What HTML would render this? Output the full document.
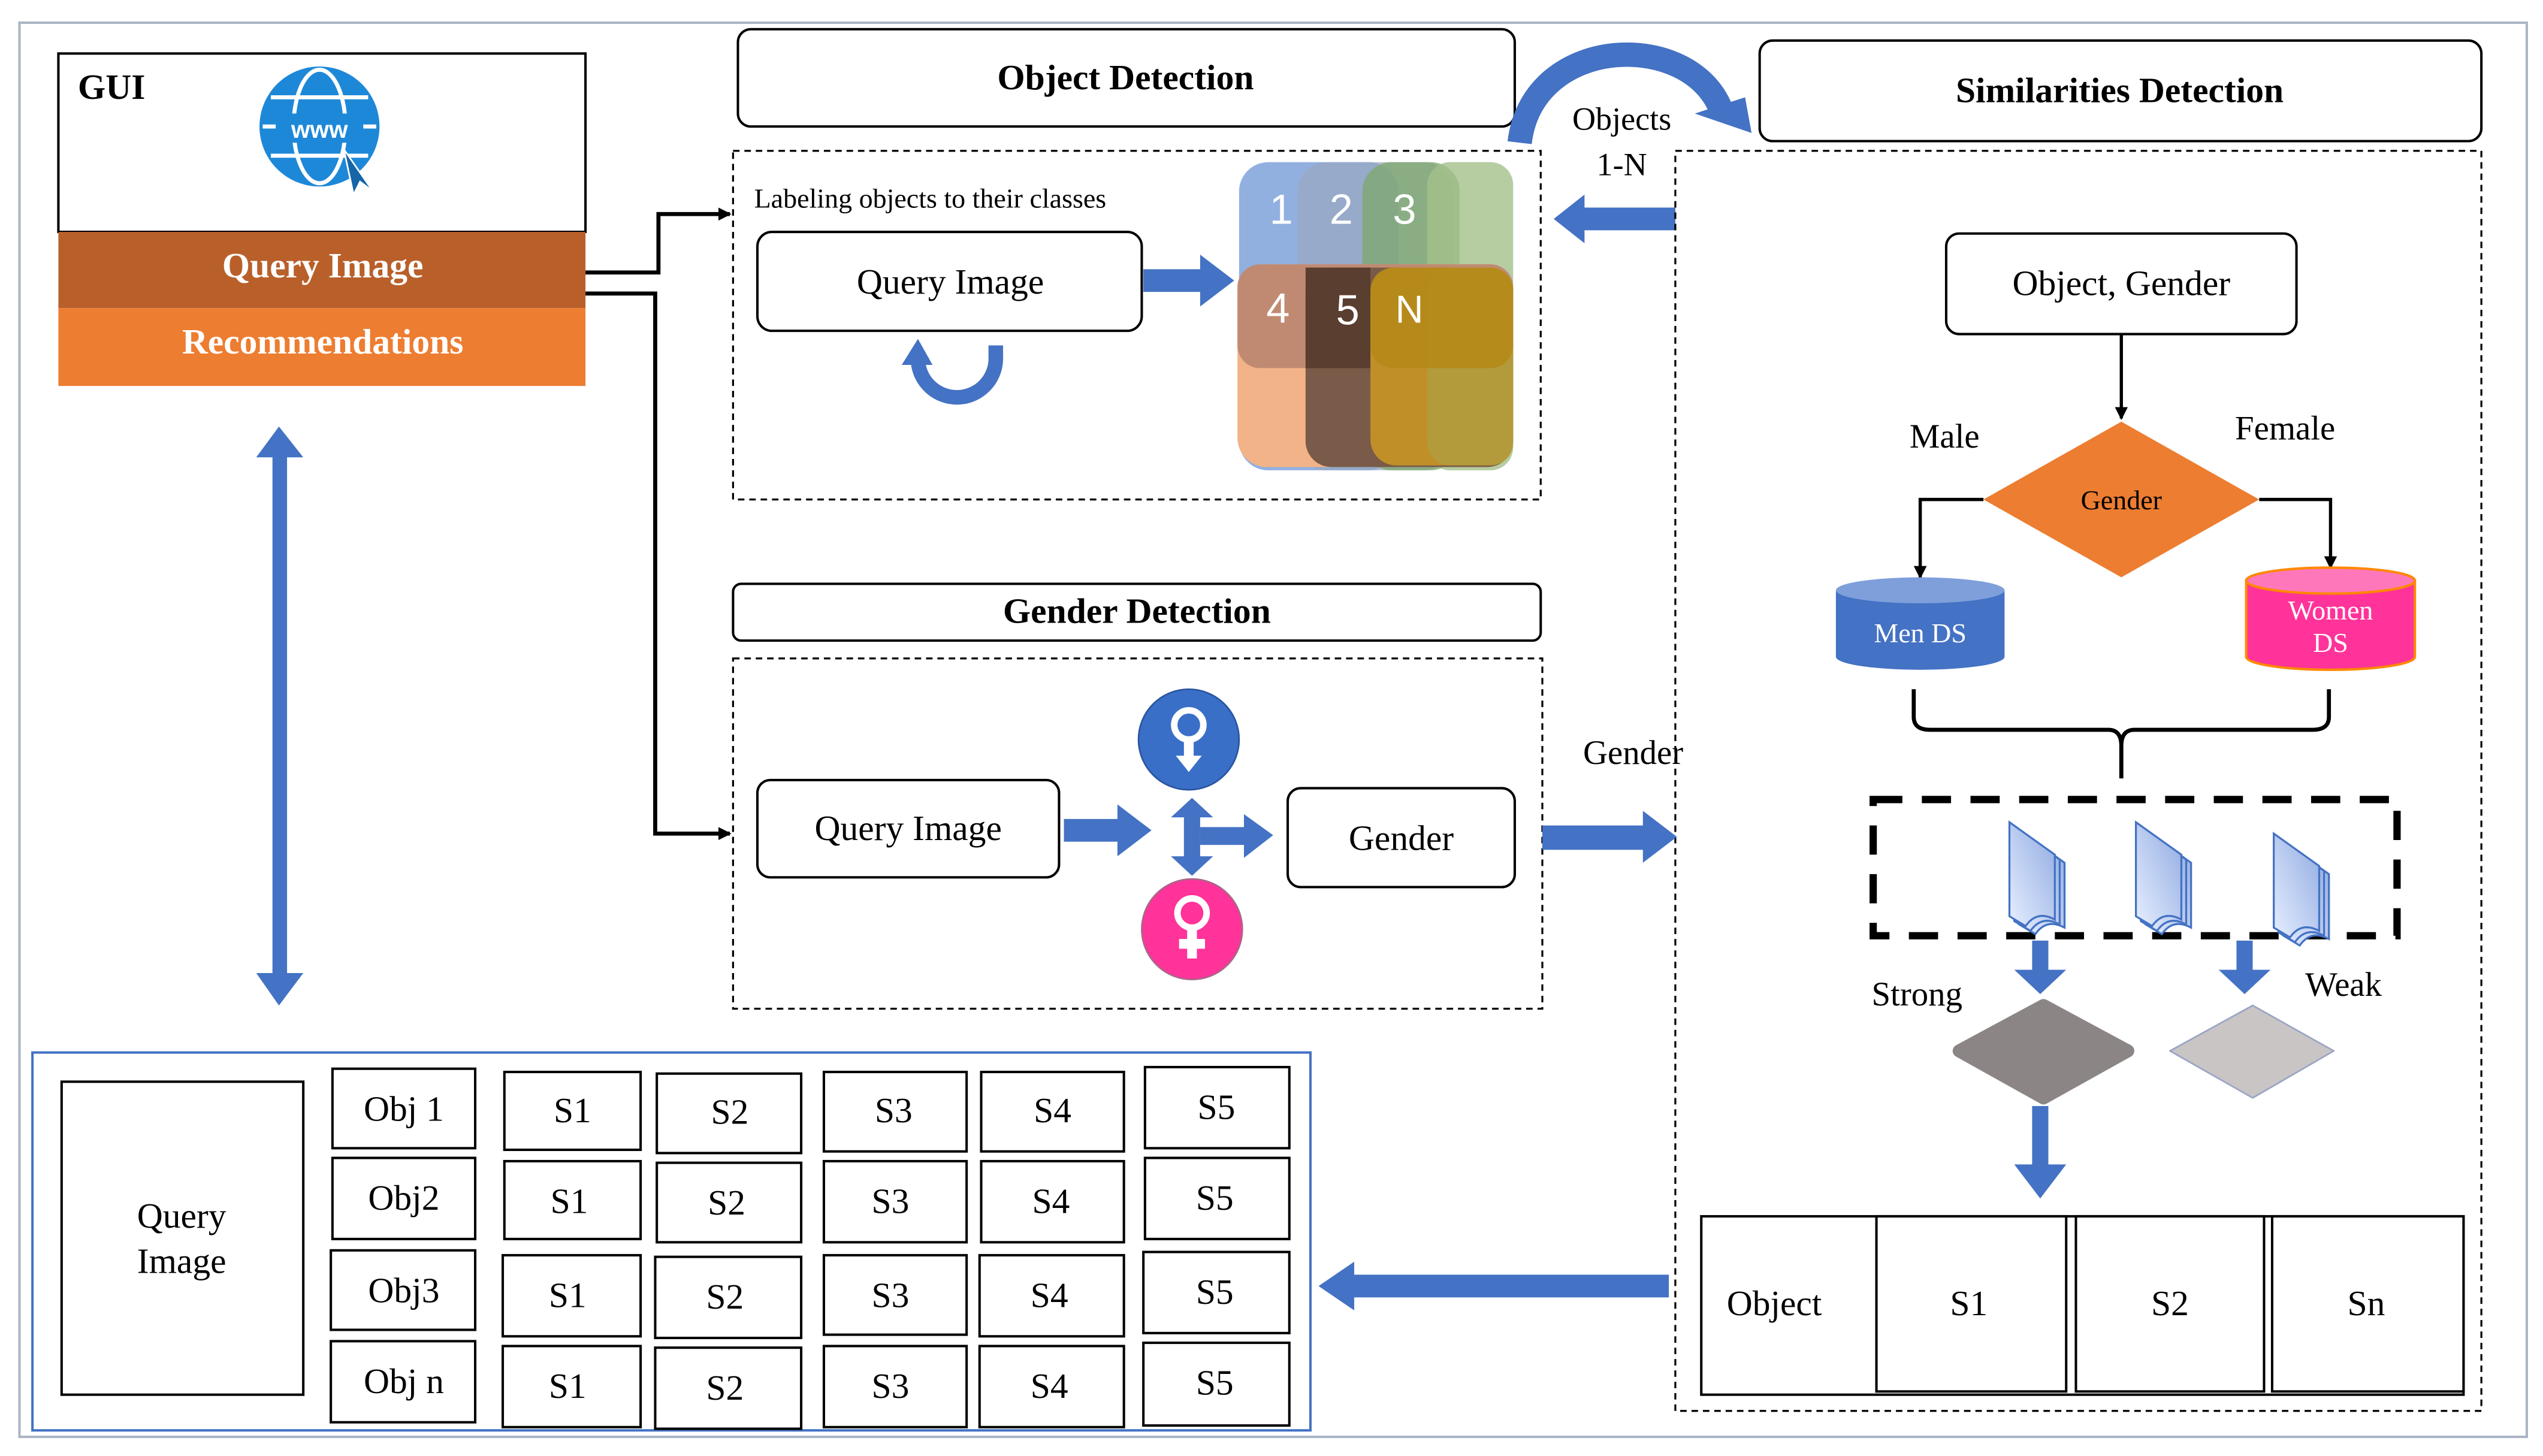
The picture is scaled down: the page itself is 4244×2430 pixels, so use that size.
<!DOCTYPE html>
<html><head><meta charset="utf-8"><style>html,body{margin:0;padding:0;background:#fff}svg{display:block}</style></head>
<body>
<svg width="4244" height="2430" viewBox="0 0 1568 897.8" preserveAspectRatio="none" xmlns="http://www.w3.org/2000/svg" font-family="Liberation Serif, serif">
<defs>
<marker id="ah" markerWidth="8" markerHeight="8" refX="7" refY="4" orient="auto" markerUnits="userSpaceOnUse"><path d="M0,0 L8,4 L0,8 z" fill="#000"/></marker>
<linearGradient id="doc" x1="0" y1="1" x2="1" y2="0"><stop offset="0" stop-color="#e6eeff"/><stop offset="1" stop-color="#8faae0"/></linearGradient>
</defs>
<rect x="12" y="14" width="1546" height="872" fill="none" stroke="#aab4c4" stroke-width="1.5"/>

<!-- GUI -->
<rect x="36" y="33" width="325" height="110" fill="#fff" stroke="#000" stroke-width="1.5"/>
<text x="48" y="61" font-size="22" font-weight="bold">GUI</text>
<circle cx="197" cy="78" r="37" fill="#1e88d8"/>
<g stroke="#fff" stroke-width="2.5" fill="none"><ellipse cx="197" cy="78" rx="16" ry="35"/><line x1="162" y1="78" x2="232" y2="78"/><path d="M167,60 H227 M167,96 H227"/></g>
<rect x="170" y="70" width="54" height="18" fill="#1e88d8"/>
<text x="197" y="85" font-size="15" fill="#fff" text-anchor="middle" font-family="Liberation Sans, sans-serif" font-weight="bold">www</text>
<path d="M212,92 L230,118 L222,112 L218,120 Z" fill="#1565a8" stroke="#fff" stroke-width="1"/>
<rect x="36" y="143" width="325" height="47" fill="#b9602a"/>
<text x="199" y="171" font-size="22" font-weight="bold" fill="#fff" text-anchor="middle">Query Image</text>
<rect x="36" y="190" width="325" height="48" fill="#ed7d31"/>
<text x="199" y="218" font-size="22" font-weight="bold" fill="#fff" text-anchor="middle">Recommendations</text>

<!-- vertical double arrow -->
<rect x="168" y="280" width="9" height="322" fill="#4472c4"/>
<path d="M158,282 L172,263 L187,282 Z M158,600 L172,620 L187,600 Z" fill="#4472c4"/>

<!-- connectors -->
<path d="M361,168 H406 V132 H450" fill="none" stroke="#000" stroke-width="2.5" marker-end="url(#ah)"/>
<path d="M361,181 H404 V514 H450" fill="none" stroke="#000" stroke-width="2.5" marker-end="url(#ah)"/>

<!-- Object Detection -->
<rect x="455" y="18" width="479" height="60" rx="8" fill="#fff" stroke="#000" stroke-width="1.5"/>
<text x="694" y="55" font-size="22" font-weight="bold" text-anchor="middle">Object Detection</text>
<rect x="452" y="93" width="498" height="215" fill="none" stroke="#000" stroke-width="1.2" stroke-dasharray="4,3"/>
<text x="465" y="128" font-size="17">Labeling objects to their classes</text>
<rect x="467" y="143" width="237" height="61" rx="9" fill="#fff" stroke="#000" stroke-width="1.5"/>
<text x="586" y="181" font-size="22" text-anchor="middle">Query Image</text>
<rect x="705" y="166" width="36" height="14" fill="#4472c4"/><path d="M740,157 L761,173 L740,189 Z" fill="#4472c4"/>
<path d="M614,213 V220 A24,24 0 0 1 566,222" fill="none" stroke="#4472c4" stroke-width="9"/>
<path d="M556,225 L566,209 L575,225 Z" fill="#4472c4"/>
<!-- colored blocks -->
<g>
<rect x="764" y="100" width="98" height="190" rx="18" fill="#7ea2da" opacity="0.85"/>
<rect x="800" y="100" width="96" height="190" rx="18" fill="#9aa8c0" opacity="0.7"/>
<rect x="840" y="100" width="60" height="190" rx="18" fill="#7fa870" opacity="0.8"/>
<rect x="880" y="100" width="53" height="190" rx="14" fill="#a3c08a" opacity="0.8"/>
<rect x="763" y="163" width="170" height="125" rx="18" fill="#f2b388"/>
<rect x="763" y="163" width="170" height="64" rx="14" fill="#c08a72"/>
<rect x="805" y="165" width="128" height="123" rx="16" fill="#7a5a48"/>
<rect x="805" y="165" width="40" height="62" fill="#5a3e30"/>
<rect x="845" y="165" width="88" height="122" rx="16" fill="#c08f28"/>
<rect x="880" y="165" width="53" height="122" rx="14" fill="#b39a3a"/>
<rect x="845" y="165" width="88" height="62" rx="14" fill="#b58a18" opacity="0.9"/>
</g>
<g font-family="Liberation Sans, sans-serif" font-size="26" fill="#fff" text-anchor="middle">
<text x="790" y="138">1</text><text x="827" y="138">2</text><text x="866" y="138">3</text>
<text x="788" y="199">4</text><text x="831" y="200">5</text><text x="869" y="199" font-size="24">N</text></g>

<!-- curved top arrow -->
<path d="M937,88 C945,20 1045,18 1062,70" fill="none" stroke="#4472c4" stroke-width="15"/>
<path d="M1045,70 L1080,82 L1076,60 Z" fill="#4472c4"/>
<text x="1000" y="80" font-size="20" text-anchor="middle">Objects</text>
<text x="1000" y="108" font-size="20" text-anchor="middle">1-N</text>
<rect x="975" y="128" width="58" height="14" fill="#4472c4"/><path d="M977,120 L958,135 L977,150 Z" fill="#4472c4"/>

<!-- Similarities -->
<rect x="1085" y="25" width="445" height="62" rx="8" fill="#fff" stroke="#000" stroke-width="1.5"/>
<text x="1307" y="63" font-size="22" font-weight="bold" text-anchor="middle">Similarities Detection</text>
<rect x="1033" y="93" width="497" height="777" fill="none" stroke="#000" stroke-width="1.2" stroke-dasharray="4,3"/>
<rect x="1200" y="144" width="216" height="62" rx="8" fill="#fff" stroke="#000" stroke-width="1.5"/>
<text x="1308" y="182" font-size="22" text-anchor="middle">Object, Gender</text>
<line x1="1308" y1="206" x2="1308" y2="258" stroke="#000" stroke-width="2" marker-end="url(#ah)"/>
<path d="M1308,260 L1393,308 L1308,356 L1223,308 Z" fill="#ed7d31"/>
<text x="1308" y="314" font-size="17" text-anchor="middle">Gender</text>
<text x="1199" y="276" font-size="21" text-anchor="middle">Male</text>
<text x="1409" y="271" font-size="21" text-anchor="middle">Female</text>
<path d="M1223,308 H1184 V356" fill="none" stroke="#000" stroke-width="2" marker-end="url(#ah)"/>
<path d="M1393,308 H1437 V350" fill="none" stroke="#000" stroke-width="2" marker-end="url(#ah)"/>
<path d="M1132,364 V405 A52,8 0 0 0 1236,405 V364 Z" fill="#4472c4"/>
<ellipse cx="1184" cy="364" rx="52" ry="8" fill="#7f9fda"/>
<text x="1184" y="396" font-size="17" fill="#fff" text-anchor="middle">Men DS</text>
<path d="M1385,358 V405 A52,8 0 0 0 1489,405 V358 Z" fill="#ff3399" stroke="#ff8800" stroke-width="1.5"/>
<ellipse cx="1437" cy="358" rx="52" ry="8" fill="#ff77bb" stroke="#ff8800" stroke-width="1.5"/>
<text x="1437" y="382" font-size="17" fill="#fff" text-anchor="middle">Women</text>
<text x="1437" y="402" font-size="17" fill="#fff" text-anchor="middle">DS</text>
<path d="M1180,425 V442 Q1180,450 1190,450 H1300 Q1308,450 1308,460 V480 M1436,425 V442 Q1436,450 1426,450 H1316 Q1308,450 1308,460" fill="none" stroke="#000" stroke-width="2.5"/>
<rect x="1155" y="493" width="323" height="84" fill="none" stroke="#000" stroke-width="4.5" stroke-dasharray="18,12"/>
<g id="docs" fill="url(#doc)" stroke="#4472c4" stroke-width="1.2">
<path d="M1245,512 L1273,532 L1273,572 Q1262,566 1255,576 L1245,570 Z"/>
<path d="M1242,510 L1270,530 L1270,570 Q1259,564 1252,574 L1242,568 Z"/>
<path d="M1239,507 L1267,527 L1267,567 Q1256,561 1249,571 L1239,565 Z"/>
</g>
<use href="#docs" x="78"/><use href="#docs" x="163" y="7"/>
<rect x="1253" y="580" width="10" height="20" fill="#4472c4"/><path d="M1242,598 L1258,613 L1274,598 Z" fill="#4472c4"/>
<rect x="1379" y="580" width="10" height="20" fill="#4472c4"/><path d="M1368,598 L1384,613 L1400,598 Z" fill="#4472c4"/>
<text x="1182" y="620" font-size="21" text-anchor="middle">Strong</text>
<text x="1445" y="614" font-size="21" text-anchor="middle">Weak</text>
<path d="M1260,620 L1312,648 L1260,677 L1208,648 Z" fill="#8c8585" stroke="#8c8585" stroke-width="8" stroke-linejoin="round"/>
<path d="M1389,620 L1439,648 L1389,677 L1338,648 Z" fill="#c9c5c5" stroke="#9aa4c4" stroke-width="1" stroke-linejoin="round"/>
<rect x="1253" y="682" width="10" height="38" fill="#4472c4"/><path d="M1242,718 L1258,739 L1274,718 Z" fill="#4472c4"/>
<g stroke="#000" stroke-width="1.5" fill="#fff">
<rect x="1049" y="750" width="470" height="110"/>
<rect x="1157" y="750" width="117" height="108"/><rect x="1280" y="750" width="116" height="108"/><rect x="1401" y="750" width="118" height="108"/></g>
<g font-size="22" text-anchor="middle"><text x="1094" y="811">Object</text><text x="1214" y="811">S1</text><text x="1338" y="811">S2</text><text x="1459" y="811">Sn</text></g>
<rect x="833" y="786" width="196" height="14" fill="#4472c4"/><path d="M835,778 L813,793 L835,808 Z" fill="#4472c4"/>

<!-- Gender Detection -->
<rect x="452" y="360" width="498" height="35" rx="5" fill="#fff" stroke="#000" stroke-width="1.5"/>
<text x="701" y="384" font-size="22" font-weight="bold" text-anchor="middle">Gender Detection</text>
<rect x="452" y="406" width="499" height="216" fill="none" stroke="#000" stroke-width="1.2" stroke-dasharray="4,3"/>
<rect x="467" y="481" width="186" height="60" rx="8" fill="#fff" stroke="#000" stroke-width="1.5"/>
<text x="560" y="518" font-size="22" text-anchor="middle">Query Image</text>
<rect x="656" y="505" width="34" height="14" fill="#4472c4"/><path d="M689,496 L710,512 L689,528 Z" fill="#4472c4"/>
<circle cx="733" cy="456" r="31" fill="#3a6fc8" stroke="#2a55a0" stroke-width="1"/>
<circle cx="733" cy="447" r="9" fill="none" stroke="#fff" stroke-width="4"/>
<path d="M730,456 H736 V466 H741 L733,476 L725,466 H730 Z" fill="#fff"/>
<circle cx="735" cy="573" r="31" fill="#ff3399" stroke="#aa6688" stroke-width="1"/>
<circle cx="735" cy="563" r="9" fill="none" stroke="#fff" stroke-width="4"/>
<path d="M732,573 H738 V579 H743 V585 H738 V591 H732 V585 H727 V579 H732 Z" fill="#fff"/>
<rect x="730" y="502" width="10" height="28" fill="#4472c4"/>
<path d="M722,504 L735,492 L748,504 Z M722,528 L735,540 L748,528 Z" fill="#4472c4"/>
<rect x="740" y="510" width="28" height="11" fill="#4472c4"/><path d="M767,502 L785,515 L767,529 Z" fill="#4472c4"/>
<rect x="794" y="486" width="140" height="61" rx="8" fill="#fff" stroke="#000" stroke-width="1.5"/>
<text x="864" y="524" font-size="22" text-anchor="middle">Gender</text>
<rect x="951" y="509" width="63" height="15" fill="#4472c4"/><path d="M1013,500 L1034,516 L1013,532 Z" fill="#4472c4"/>
<text x="1007" y="471" font-size="21" text-anchor="middle">Gender</text>

<!-- bottom-left table -->
<rect x="20" y="649" width="788" height="233" fill="none" stroke="#4472c4" stroke-width="1.5"/>
<rect x="38" y="667" width="149" height="193" fill="#fff" stroke="#000" stroke-width="1.5"/>
<text x="112" y="757" font-size="22" text-anchor="middle">Query</text>
<text x="112" y="785" font-size="22" text-anchor="middle">Image</text>
<g stroke="#000" stroke-width="1.5" fill="#fff">
<rect x="205" y="659" width="88" height="49"/><rect x="205" y="714" width="88" height="50"/><rect x="204" y="771" width="89" height="49"/><rect x="204" y="827" width="89" height="50"/>
<rect x="311" y="661" width="84" height="48"/><rect x="405" y="662" width="89" height="49"/><rect x="508" y="661" width="88" height="49"/><rect x="605" y="661" width="88" height="49"/><rect x="706" y="658" width="89" height="50"/>
<rect x="311" y="716" width="84" height="48"/><rect x="405" y="717" width="89" height="49"/><rect x="508" y="716" width="88" height="50"/><rect x="605" y="716" width="88" height="50"/><rect x="706" y="714" width="89" height="50"/>
<rect x="310" y="774" width="85" height="50"/><rect x="404" y="775" width="90" height="50"/><rect x="508" y="774" width="88" height="49"/><rect x="604" y="774" width="89" height="50"/><rect x="705" y="772" width="90" height="50"/>
<rect x="310" y="830" width="85" height="50"/><rect x="404" y="831" width="90" height="50"/><rect x="508" y="830" width="88" height="50"/><rect x="604" y="830" width="89" height="50"/><rect x="705" y="828" width="90" height="51"/>
</g>
<g font-size="22" text-anchor="middle">
<text x="249" y="691">Obj 1</text><text x="249" y="746">Obj2</text><text x="249" y="803">Obj3</text><text x="249" y="859">Obj n</text>
<text x="353" y="692">S1</text><text x="450" y="693">S2</text><text x="551" y="692">S3</text><text x="649" y="692">S4</text><text x="750" y="690">S5</text>
<text x="351" y="748">S1</text><text x="448" y="749">S2</text><text x="549" y="748">S3</text><text x="648" y="748">S4</text><text x="749" y="746">S5</text>
<text x="350" y="806">S1</text><text x="447" y="807">S2</text><text x="549" y="806">S3</text><text x="647" y="806">S4</text><text x="749" y="804">S5</text>
<text x="350" y="862">S1</text><text x="447" y="863">S2</text><text x="549" y="862">S3</text><text x="647" y="862">S4</text><text x="749" y="860">S5</text>
</g>
</svg>
</body></html>
